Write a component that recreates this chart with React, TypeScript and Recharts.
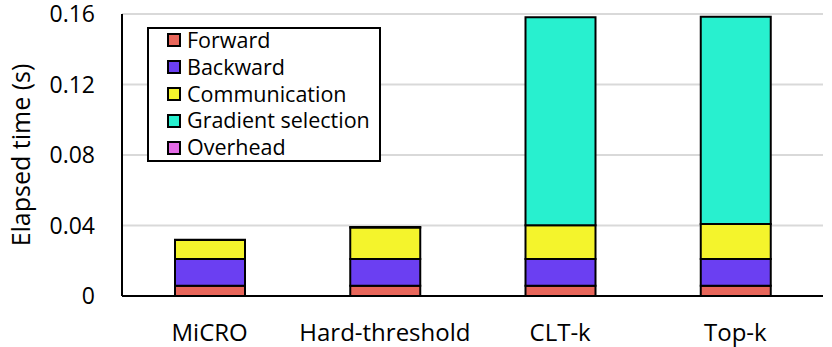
import React from "react";
import {
  BarChart,
  Bar,
  XAxis,
  YAxis,
  CartesianGrid,
  Label,
} from "recharts";

const methods = ["MiCRO", "Hard-threshold", "CLT-k", "Top-k"];

const forward = [0.0058, 0.0058, 0.0058, 0.0058];
const backward = [0.0152, 0.0152, 0.0152, 0.0152];
const communication = [0.0108, 0.0178, 0.0191, 0.0198];
const gradientSelection = [0, 0, 0.118, 0.1177];
const overhead = [0.0001, 0.0003, 0, 0];

const yTicks = [0, 0.04, 0.08, 0.12, 0.16];

const series = [
  { key: "forward", name: "Forward", color: "#E8665A", values: forward },
  { key: "backward", name: "Backward", color: "#6B3FF2", values: backward },
  { key: "communication", name: "Communication", color: "#F4F42C", values: communication },
  { key: "gradient", name: "Gradient selection", color: "#28F0CF", values: gradientSelection },
  { key: "overhead", name: "Overhead", color: "#E46BE6", values: overhead },
];

const data = methods.map((m, i) => {
  const row: Record<string, string | number> = { name: m };
  series.forEach((s) => (row[s.key] = s.values[i]));
  return row;
});

const font = "'Open Sans', sans-serif";

function LegendBox() {
  return (
    <div
      style={{
        position: "absolute",
        left: 147,
        top: 27,
        border: "2px solid #000",
        background: "#fff",
        width: 234,
        height: 135,
        boxSizing: "border-box",
        padding: "0 0 0 18px",
        fontFamily: font,
        fontSize: 21.5,
        color: "#000",
      }}
    >
      <div style={{ marginTop: -2 }}>
        {series.map((s) => (
          <div
            key={s.key}
            style={{ display: "flex", alignItems: "center", height: 26.8, lineHeight: "26.8px" }}
          >
            <span
              style={{
                width: 14,
                height: 14,
                boxSizing: "border-box",
                border: "2px solid #000",
                background: s.color,
                marginRight: 6,
                flex: "none",
              }}
            />
            <span>{s.name}</span>
          </div>
        ))}
      </div>
    </div>
  );
}

export default function App() {
  return (
    <div style={{ position: "absolute", left: 0, top: 0, width: 832, height: 347, background: "#fff" }}>
      <BarChart
        width={832}
        height={347}
        data={data}
        margin={{ top: 14, right: 9, bottom: 0, left: 0 }}
        barSize={70}
      >
        <CartesianGrid vertical={false} stroke="#d9d9d9" strokeWidth={2} />
        <XAxis
          dataKey="name"
          height={51}
          tickSize={0}
          tickMargin={28}
          axisLine={{ stroke: "#000", strokeWidth: 2 }}
          tick={{ fill: "#000", fontSize: 24, fontFamily: font }}
        />
        <XAxis
          xAxisId="top"
          dataKey="name"
          orientation="top"
          height={0}
          tick={false}
          tickLine={false}
          axisLine={{ stroke: "#000", strokeWidth: 2 }}
        />
        <YAxis
          width={122}
          domain={[0, 0.16]}
          ticks={yTicks}
          tickSize={0}
          tickMargin={27}
          tickFormatter={(v: number) => (v === 0 ? "0" : v.toFixed(2))}
          axisLine={{ stroke: "#000", strokeWidth: 2 }}
          tick={{ fill: "#000", fontSize: 23, fontFamily: font }}
        >
          <Label
            content={() => (
              <text
                x={20}
                y={155}
                transform="rotate(-90 20 155)"
                textAnchor="middle"
                dominantBaseline="central"
                fontSize={25}
                fontFamily={font}
                fill="#000"
              >
                Elapsed time (s)
              </text>
            )}
          />
        </YAxis>
        <YAxis
          yAxisId="right"
          orientation="right"
          width={0}
          domain={[0, 0.16]}
          tick={false}
          tickLine={false}
          axisLine={{ stroke: "#000", strokeWidth: 2 }}
        />
        {series.map((s) => (
          <Bar
            key={s.key}
            dataKey={s.key}
            name={s.name}
            stackId="a"
            fill={s.color}
            stroke="#000"
            strokeWidth={2}
            isAnimationActive={false}
          />
        ))}
      </BarChart>
      <LegendBox />
    </div>
  );
}
